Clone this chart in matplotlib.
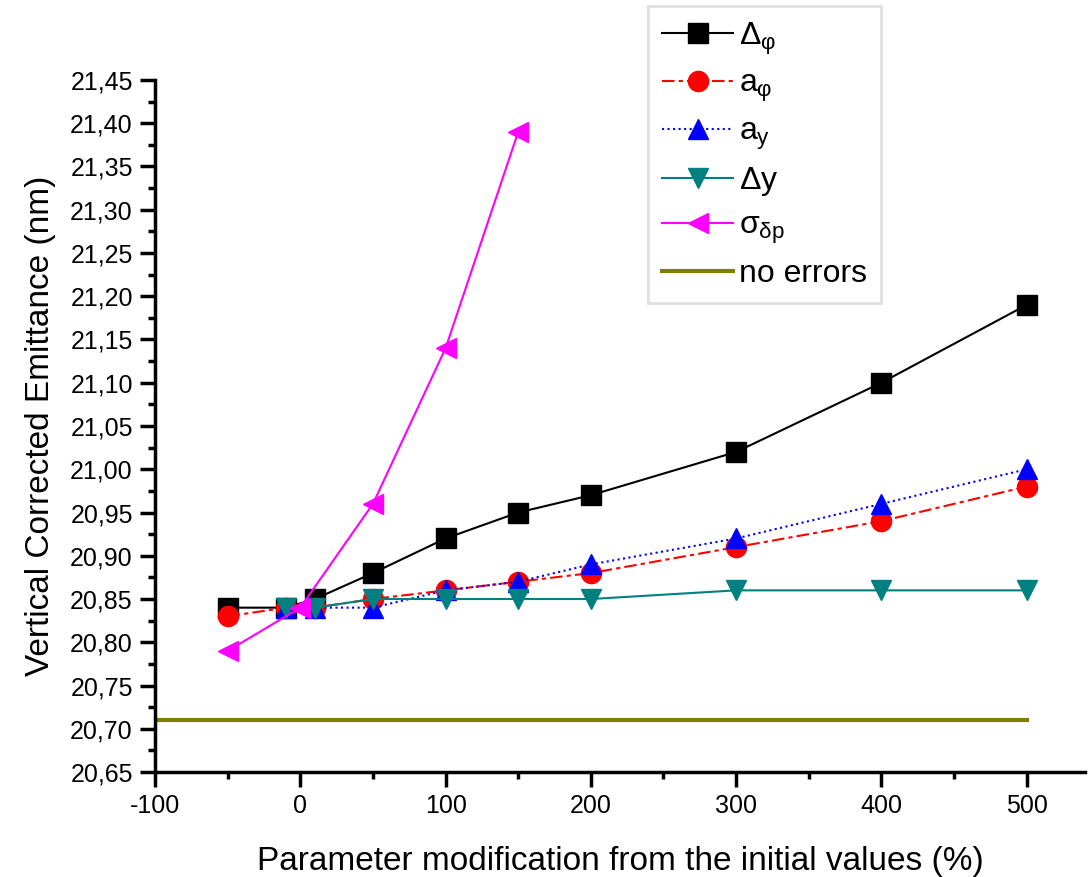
import matplotlib
matplotlib.use('Agg')
import matplotlib.pyplot as plt
from matplotlib.ticker import MultipleLocator, FuncFormatter

plt.rcParams['font.family'] = ['Liberation Sans', 'DejaVu Sans']
plt.rcParams['mathtext.fontset'] = 'custom'
plt.rcParams['mathtext.rm'] = 'Liberation Sans'
plt.rcParams['mathtext.it'] = 'Liberation Sans'
plt.rcParams['axes.unicode_minus'] = False

# data
x_main = [-50, -10, 10, 50, 100, 150, 200, 300, 400, 500]
delta_phi = [20.84, 20.84, 20.85, 20.88, 20.92, 20.95, 20.97, 21.02, 21.10, 21.19]
a_phi = [20.83, 20.84, 20.84, 20.85, 20.86, 20.87, 20.88, 20.91, 20.94, 20.98]

x_ay = [-10, 10, 50, 100, 150, 200, 300, 400, 500]
a_y = [20.84, 20.84, 20.84, 20.86, 20.87, 20.89, 20.92, 20.96, 21.00]
delta_y = [20.84, 20.84, 20.85, 20.85, 20.85, 20.85, 20.86, 20.86, 20.86]

x_sigma = [-50, 0, 50, 100, 150]
sigma_dp = [20.79, 20.84, 20.96, 21.14, 21.39]

x_ref = [-100, 500]
no_errors = [20.71, 20.71]


def comma_fmt(v, pos):
    return f'{v:.2f}'.replace('.', ',')


def main():
    fig = plt.figure(figsize=(10.88, 8.77), dpi=100)
    ax = fig.add_axes([0.1425, 0.1197, 0.8545, 0.7891])

    ms = 14.5
    ax.plot(x_main, delta_phi, color='black', lw=1.5, marker='s', ms=ms,
            label=r'$\Delta_\varphi$')
    ax.plot(x_main, a_phi, color='red', lw=1.5, ls=(0, (6, 2, 2, 2)), marker='o',
            ms=ms, label=r'$a_\varphi$')
    ax.plot(x_ay, a_y, color='blue', lw=1.5, ls=':', marker='^', ms=ms,
            label=r'$a_y$')
    ax.plot(x_ay, delta_y, color='#008080', lw=1.5, marker='v', ms=ms,
            label=r'$\Delta$y')
    ax.plot(x_sigma, sigma_dp, color='magenta', lw=1.5, marker='<', ms=ms,
            label=r'$\sigma_{\delta p}$')
    ax.plot(x_ref, no_errors, color='#808000', lw=3, label='no errors')

    ax.set_xlim(-100, 540)
    ax.set_ylim(20.65, 21.45)
    ax.xaxis.set_major_locator(MultipleLocator(100))
    ax.xaxis.set_minor_locator(MultipleLocator(50))
    ax.yaxis.set_major_locator(MultipleLocator(0.05))
    ax.yaxis.set_minor_locator(MultipleLocator(0.025))
    ax.yaxis.set_major_formatter(FuncFormatter(comma_fmt))

    for side in ('top', 'right'):
        ax.spines[side].set_visible(False)
    for side in ('left', 'bottom'):
        ax.spines[side].set_linewidth(2.5)
    ax.tick_params(which='major', direction='out', length=11, width=2.5,
                   labelsize=18, pad=5)
    ax.tick_params(which='minor', direction='out', length=5, width=2.5)

    ax.set_xlabel('Parameter modification from the initial values (%)',
                  fontsize=24, labelpad=20)
    ax.set_ylabel('Vertical Corrected Emittance (nm)', fontsize=24, labelpad=10)

    leg = fig.legend(loc='upper left', bbox_to_anchor=(648 / 1088, 1 - 6 / 877),
                     fontsize=23, frameon=True, fancybox=False, handlelength=2.2,
                     labelspacing=0.4, borderpad=0.45, handletextpad=0.2,
                     borderaxespad=0)
    leg.get_frame().set_edgecolor('#d8d8d8')
    leg.get_frame().set_linewidth(2)

    fig.savefig('out.png', dpi=100)


if __name__ == '__main__':
    main()
